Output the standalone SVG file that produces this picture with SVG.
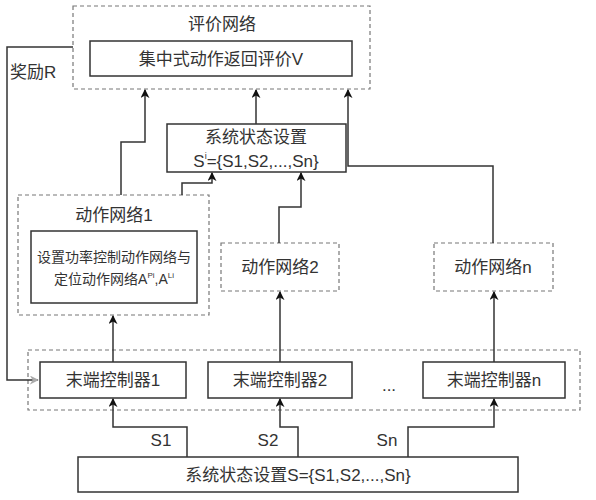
<svg xmlns="http://www.w3.org/2000/svg" width="596" height="500" viewBox="0 0 596 500">
<defs>
<style>
.t{font-family:"Liberation Sans","Noto Sans CJK SC",sans-serif;font-size:17px;fill:#333;text-anchor:middle}
.s{font-size:14px}
.dash{fill:none;stroke:#777;stroke-width:1.2;stroke-dasharray:4 3}
.box{fill:#fff;stroke:#333;stroke-width:1.5}
.c{fill:none;stroke:#333;stroke-width:1.5}
</style>
<marker id="a" viewBox="0 0 10 10" refX="9" refY="5" markerUnits="userSpaceOnUse" markerWidth="9" markerHeight="9" orient="auto">
<path d="M0,0 L10,5 L0,10 L3,5 z" fill="#111"/>
</marker>
<marker id="g" viewBox="0 0 10 10" refX="9" refY="5" markerUnits="userSpaceOnUse" markerWidth="9" markerHeight="9" orient="auto">
<path d="M0,0 L10,5 L0,10 L3,5 z" fill="#aaa"/>
</marker>
</defs>
<rect width="596" height="500" fill="#fff"/>

<g id="critic">
<rect class="dash" x="73" y="6" width="297" height="83"/>
<text class="t" x="222" y="30">评价网络</text>
</g>
<g id="critic-inner">
<rect class="box" x="90" y="41" width="262" height="35"/>
<text class="t" x="221" y="65">集中式动作返回评价V</text>
</g>
<g id="reward-label">
<text class="t" x="10" y="78" style="text-anchor:start">奖励R</text>
</g>

<g id="state-mid">
<rect class="box" x="167" y="124" width="179" height="48"/>
<text class="t" x="256" y="143">系统状态设置</text>
<text class="t" x="256" y="167">S<tspan font-size="9" dy="-8">i</tspan><tspan dy="8">={S1,S2,...,Sn}</tspan></text>
</g>

<g id="actor1">
<rect class="dash" x="18" y="195" width="191" height="120"/>
<text class="t" x="114" y="221">动作网络1</text>
</g>
<g id="actor1-inner">
<rect class="box" x="31" y="231" width="166" height="72"/>
<text class="t s" x="114" y="262">设置功率控制动作网络与</text>
<text class="t s" x="114" y="284">定位动作网络A<tspan font-size="8" dy="-6">Pi</tspan><tspan dy="6">,A</tspan><tspan font-size="8" dy="-6">Li</tspan></text>
</g>

<g id="actor2">
<rect class="dash" x="221" y="243" width="118" height="48"/>
<text class="t" x="280" y="273">动作网络2</text>
</g>
<g id="actorn">
<rect class="dash" x="434" y="243" width="119" height="48"/>
<text class="t" x="493" y="273">动作网络n</text>
</g>

<g id="controllers">
<rect class="dash" x="28" y="350" width="552" height="60"/>
<text class="t" x="389" y="391">...</text>
</g>
<g id="ctrl1">
<rect class="box" x="40" y="362" width="146" height="36"/>
<text class="t" x="113" y="386">末端控制器1</text>
</g>
<g id="ctrl2">
<rect class="box" x="208" y="362" width="144" height="36"/>
<text class="t" x="280" y="386">末端控制器2</text>
</g>
<g id="ctrln">
<rect class="box" x="423" y="362" width="142" height="36"/>
<text class="t" x="494" y="386">末端控制器n</text>
</g>

<g id="state-bottom">
<rect class="box" x="78" y="457" width="440" height="35"/>
<text class="t" x="298" y="481">系统状态设置S={S1,S2,...,Sn}</text>
</g>

<g id="connectors">
<path class="c" d="M187,457 V427 H113 V399" marker-end="url(#a)"/>
<path class="c" d="M298,457 V427 H280 V399" marker-end="url(#a)"/>
<path class="c" d="M408,457 V427 H494 V399" marker-end="url(#a)"/>
<path class="c" d="M113,362 V316" marker-end="url(#a)"/>
<path class="c" d="M280,362 V292" marker-end="url(#a)"/>
<path class="c" d="M494,362 V292" marker-end="url(#a)"/>
<path class="c" d="M121,195 V142 H145 V90" marker-end="url(#a)"/>
<path class="c" d="M182,195 V183 H212 V173" marker-end="url(#a)"/>
<path class="c" d="M279,243 V207 H301 V173" marker-end="url(#a)"/>
<path class="c" d="M256,124 V90" marker-end="url(#a)"/>
<path class="c" d="M493,243 V166 H348 V90" marker-end="url(#a)"/>
<path class="c" d="M73,47 H7 V380 H38" marker-end="url(#g)"/>
<text class="t" x="161" y="446">S1</text>
<text class="t" x="268" y="446">S2</text>
<text class="t" x="387" y="446">Sn</text>
</g>
</svg>
